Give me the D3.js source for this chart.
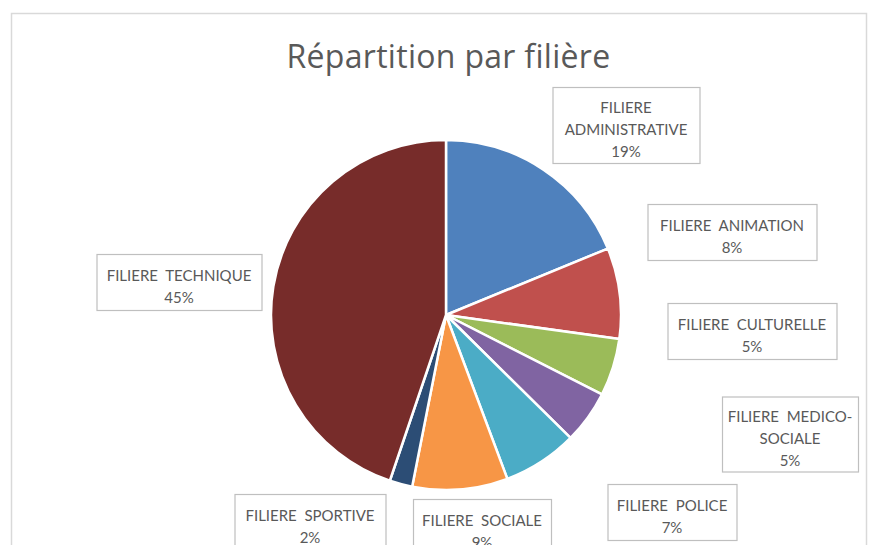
<!DOCTYPE html>
<html><head><meta charset="utf-8">
<script src="https://cdn.jsdelivr.net/npm/d3@7"></script>
<style>
html,body{margin:0;padding:0;background:#fff;}
svg{display:block;}
</style></head>
<body>
<svg id="chart" width="869" height="545"></svg>
<script>
// ---- data ----
const title = "Répartition par filière";
const categories = ["FILIERE ADMINISTRATIVE","FILIERE ANIMATION","FILIERE CULTURELLE","FILIERE MEDICO-SOCIALE","FILIERE POLICE","FILIERE SOCIALE","FILIERE SPORTIVE","FILIERE TECHNIQUE"];
const values = [18.8, 8.4, 5.3, 4.9, 6.9, 8.8, 2.1, 44.8];
const labelLines = [["FILIERE","ADMINISTRATIVE"],["FILIERE  ANIMATION"],["FILIERE  CULTURELLE"],["FILIERE  MEDICO-","SOCIALE"],["FILIERE  POLICE"],["FILIERE  SOCIALE"],["FILIERE  SPORTIVE"],["FILIERE  TECHNIQUE"]];
const colors = ["#4F81BD","#C0504D","#9BBB59","#8064A2","#4BACC6","#F79646","#2C4D75","#772C2A"];

// ---- layout (label boxes: center x, center y, width, height) ----
const labelBoxes = [
  [626, 125, 147, 76],
  [732, 232, 169, 56],
  [752, 331, 169, 56],
  [790, 434, 136, 75],
  [672, 512, 129, 56],
  [482, 527, 138, 56],
  [310, 522, 151, 56],
  [179, 282, 165, 56]
];
const W = 869, H = 545;
const cx = 446, cy = 315, R = 175;
const FONT = "Lato, 'Open Sans', sans-serif";

const svg = d3.select("#chart");

// chart area border
svg.append("rect").attr("x",11.5).attr("y",13.5).attr("width",855).attr("height",560)
  .attr("fill","#fff").attr("stroke","#d9d9d9").attr("stroke-width",1.5);

svg.append("text").attr("x",cx+2.5).attr("y",68).attr("text-anchor","middle")
  .attr("font-family","'Open Sans', sans-serif").attr("font-size",32).attr("font-weight",400)
  .attr("letter-spacing",0.3).attr("fill","#595959")
  .text(title);

const total = d3.sum(values);
const pie = d3.pie().sort(null).value(d=>d);
const arcs = pie(values);
const arc = d3.arc().innerRadius(0).outerRadius(R);

const g = svg.append("g").attr("transform",`translate(${cx},${cy})`);
g.selectAll("path").data(arcs).join("path")
  .attr("d",arc).attr("fill",(d,i)=>colors[i])
  .attr("stroke","#fff").attr("stroke-width",2.5).attr("stroke-linejoin","round");

const pct = d3.format(".0%");
const lg = svg.append("g");
arcs.forEach((a,i)=>{
  const [bx,by,bw,bh] = labelBoxes[i];
  const lines = labelLines[i].concat([pct(values[i]/total)]);
  lg.append("rect").attr("x",bx-bw/2+0.5).attr("y",by-bh/2+0.5).attr("width",bw).attr("height",bh)
    .attr("fill","#fff").attr("stroke","#bfbfbf").attr("stroke-width",1.2);
  const n = lines.length;
  lines.forEach((t,j)=>{
    lg.append("text").attr("x",bx).attr("y",by + (j-(n-1)/2)*22 + 10)
      .attr("text-anchor","middle").attr("font-family",FONT).attr("font-size",15)
      .attr("fill","#595959").style("white-space","pre").text(t);
  });
});
</script>
</body></html>
